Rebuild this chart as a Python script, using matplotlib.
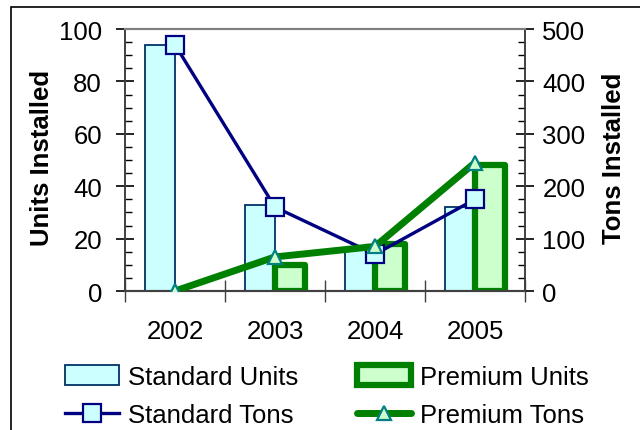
import matplotlib
matplotlib.use("Agg")
import numpy as np
from matplotlib import pyplot as plt
from matplotlib.patches import Rectangle

years = ["2002", "2003", "2004", "2005"]
standard_units = [94, 33, 16, 32]
premium_units = [0, 10, 18, 48]
standard_tons = [470, 160, 70, 175]
premium_tons = [0, 65, 85, 245]

plt.rcParams['font.family'] = ['Liberation Sans', 'DejaVu Sans']
FS = 18.5

fig = plt.figure(figsize=(6.4, 4.31), dpi=100)
# chart area border (right/bottom edges fall outside the picture)
fig.patches.append(Rectangle((11 / 640, -0.1), 1.2, 1 - 8 / 431 + 0.1,
                             transform=fig.transFigure, fill=False,
                             edgecolor='black', linewidth=1.2))

ax = fig.add_axes([125 / 640, 1 - 292 / 431, 400 / 640, 262 / 431])
ax2 = ax.twinx()

x = np.arange(len(years))
w = 0.3
ax.bar(x - w / 2, standard_units, w, color='#CCFFFF', edgecolor='#003366',
       linewidth=1.3, label='Standard Units', zorder=2)
prem = [v if v > 0 else np.nan for v in premium_units]
ax.bar(x + w / 2, prem, w, color='#CCFFCC', edgecolor='#008000',
       linewidth=4.5, joinstyle='round', label='Premium Units', zorder=2)

ax2.plot(x, standard_tons, color='#000080', linewidth=2.4, marker='s',
         markersize=13, markerfacecolor='#CCFFFF', markeredgecolor='#000080',
         markeredgewidth=1.6, label='Standard Tons', zorder=3)
ax2.plot(x, premium_tons, color='#008000', linewidth=5, solid_capstyle='round',
         marker='^', markersize=10, markerfacecolor='#CCFFCC',
         markeredgecolor='#008080', markeredgewidth=1.6,
         label='Premium Tons', zorder=4)

ax.set_xlim(-0.5, 3.5)
ax.set_ylim(0, 100)
ax2.set_ylim(0, 500)
ax.set_xticks(x)
ax.set_xticklabels(years)
ax.set_xticks(np.arange(-0.5, 4, 1), minor=True)
ax.set_yticks(np.arange(0, 101, 20))
ax.set_yticks(np.arange(0, 101, 5), minor=True)
ax2.set_yticks(np.arange(0, 501, 100))
ax2.set_yticks(np.arange(0, 501, 25), minor=True)

ax.tick_params(axis='x', which='major', length=0, labelsize=FS, pad=20)
ax.tick_params(axis='x', which='minor', direction='inout', length=16, width=1,
               color='#404040')
ax.tick_params(axis='y', which='major', direction='inout', length=13, width=1.2,
               labelsize=FS, pad=10)
ax.tick_params(axis='y', which='minor', direction='in', length=5, width=1)
ax2.tick_params(axis='y', which='major', direction='inout', length=13, width=1.2,
                labelsize=FS, pad=6)
ax2.tick_params(axis='y', which='minor', direction='in', length=5, width=1)

for a in (ax, ax2):
    a.spines['top'].set_color('#808080')
    a.spines['top'].set_linewidth(1.5)
    a.spines['bottom'].set_color('#404040')
    a.spines['bottom'].set_linewidth(1.5)
    a.spines['left'].set_color('#404040')
    a.spines['right'].set_color('#404040')
    a.spines['left'].set_linewidth(1.2)
    a.spines['right'].set_linewidth(1.2)

ax.set_ylabel('Units Installed', fontsize=FS, fontweight='bold')
ax.yaxis.set_label_coords(-0.1775, 0.51)
ax2.set_ylabel('Tons Installed', fontsize=FS, fontweight='bold', rotation=90)
ax2.yaxis.set_label_coords(1.1925, 0.51)

h1, l1 = ax.get_legend_handles_labels()
h2, l2 = ax2.get_legend_handles_labels()
handles = [h1[0], h2[0], h1[1], h2[1]]
labels = [l1[0], l2[0], l1[1], l2[1]]
fig.legend(handles, labels, ncol=2, frameon=False, fontsize=FS,
           loc='center', bbox_to_anchor=(327 / 640, 1 - 397 / 431),
           handlelength=2.1, handleheight=0.8, handletextpad=0.35,
           columnspacing=2.3, labelspacing=0.55, borderpad=0)

fig.savefig('out.png', dpi=100)
